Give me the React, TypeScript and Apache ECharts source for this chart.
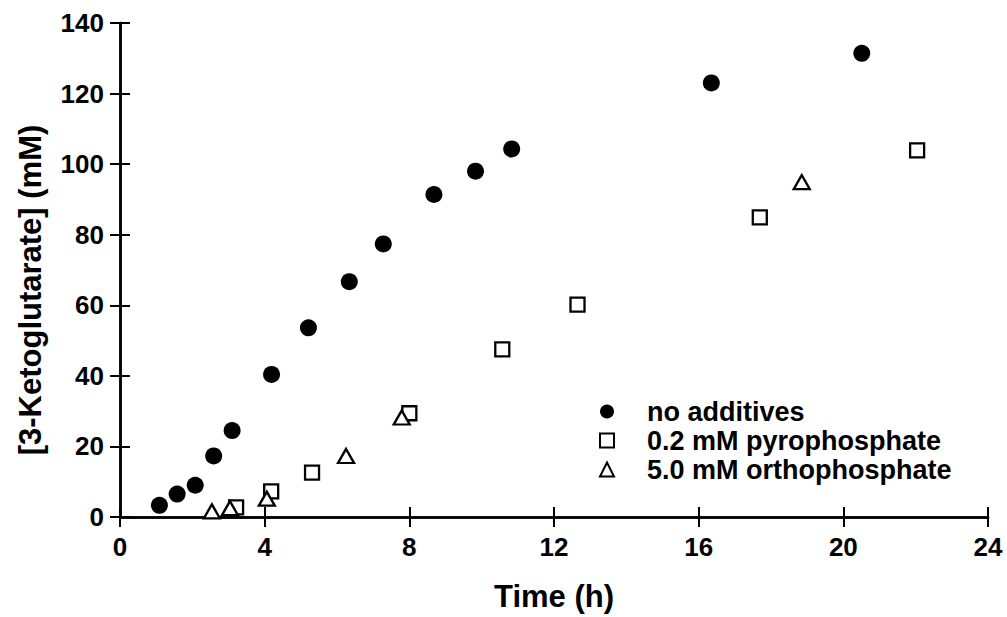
import React, { useEffect, useRef } from "react";
import * as echarts from "echarts";

const noAdditivesTime = [1.09, 1.58, 2.08, 2.59, 3.1, 4.19, 5.21, 6.34, 7.28, 8.68, 9.83, 10.83, 16.35, 20.51];
const noAdditivesConc = [3.3, 6.5, 9.0, 17.3, 24.5, 40.4, 53.6, 66.7, 77.4, 91.4, 98.0, 104.3, 123.0, 131.4];

const pyroTime = [3.21, 4.18, 5.31, 8.0, 10.57, 12.65, 17.69, 22.04];
const pyroConc = [2.7, 7.25, 12.6, 29.4, 47.5, 60.2, 84.9, 103.9];

const orthoTime = [2.54, 3.04, 4.06, 6.25, 7.79, 18.85];
const orthoConc = [1.6, 2.5, 5.2, 17.3, 28.2, 94.9];

const seriesNames = ["no additives", "0.2 mM pyrophosphate", "5.0 mM orthophosphate"];
const xLabel = "Time (h)";
const yLabel = "[3-Ketoglutarate] (mM)";

const FONT = '"Liberation Sans", Arial, sans-serif';

const zip = (xs: number[], ys: number[]) => xs.map((x, i) => [x, ys[i]]);

export default function App() {
  const ref = useRef<HTMLDivElement>(null);
  useEffect(() => {
    if (!ref.current) return;
    const chart = echarts.init(ref.current, null, { renderer: "svg" });
    const axisLine = { show: true, lineStyle: { color: "#000", width: 2.5 } };
    const axisTick = { show: true, inside: true, length: 10, lineStyle: { color: "#000", width: 2 } };
    const labelStyle = { color: "#000", fontFamily: FONT, fontWeight: "bold" as const, fontSize: 26 };
    const xBase = { type: "value" as const, min: 0, max: 24, interval: 4, splitLine: { show: false }, axisLine, axisTick };
    const yBase = { type: "value" as const, min: 0, max: 140, interval: 20, splitLine: { show: false }, axisLine, axisTick };
    chart.setOption({
      animation: false,
      backgroundColor: "#fff",
      grid: { left: 120, right: 19, top: 23, bottom: 98, containLabel: false },
      xAxis: [
        {
          ...xBase,
          position: "bottom",
          axisLabel: { ...labelStyle, margin: 17 },
          name: xLabel,
          nameLocation: "middle",
          nameGap: 64,
          nameTextStyle: { color: "#000", fontFamily: FONT, fontWeight: "bold", fontSize: 31 },
        },
        { ...xBase, position: "top", axisLabel: { show: false } },
      ],
      yAxis: [
        {
          ...yBase,
          position: "left",
          axisLabel: { ...labelStyle, margin: 16 },
          name: yLabel,
          nameLocation: "middle",
          nameGap: 74,
          nameRotate: 90,
          nameTextStyle: {
            color: "#000",
            fontFamily: FONT,
            fontWeight: "bold",
            fontSize: 31,
            padding: [0, 40, 0, 0],
          },
        },
        { ...yBase, position: "right", axisLabel: { show: false } },
      ],
      legend: {
        orient: "vertical",
        left: 594,
        top: 393,
        itemWidth: 14,
        itemHeight: 14,
        itemGap: 2,
        textStyle: {
          color: "#000",
          fontFamily: FONT,
          fontWeight: "bold",
          fontSize: 27,
          padding: [0, 0, 0, 28],
        },
        data: seriesNames,
      },
      series: [
        {
          name: seriesNames[0],
          type: "scatter",
          symbol: "circle",
          symbolSize: 17,
          clip: false,
          itemStyle: { color: "#000", opacity: 1 },
          data: zip(noAdditivesTime, noAdditivesConc),
        },
        {
          name: seriesNames[1],
          type: "scatter",
          symbol: "rect",
          symbolSize: 14,
          clip: false,
          itemStyle: { color: "#fff", borderColor: "#000", borderWidth: 2.3, opacity: 1 },
          data: zip(pyroTime, pyroConc),
        },
        {
          name: seriesNames[2],
          type: "scatter",
          symbol: "triangle",
          symbolSize: [16, 14],
          clip: false,
          itemStyle: { color: "#fff", borderColor: "#000", borderWidth: 2.3, opacity: 1 },
          data: zip(orthoTime, orthoConc),
        },
      ],
    });
    return () => chart.dispose();
  }, []);
  return (
    <div
      ref={ref}
      style={{ position: "fixed", left: 0, top: 0, width: 1007, height: 617, background: "#fff" }}
    />
  );
}
